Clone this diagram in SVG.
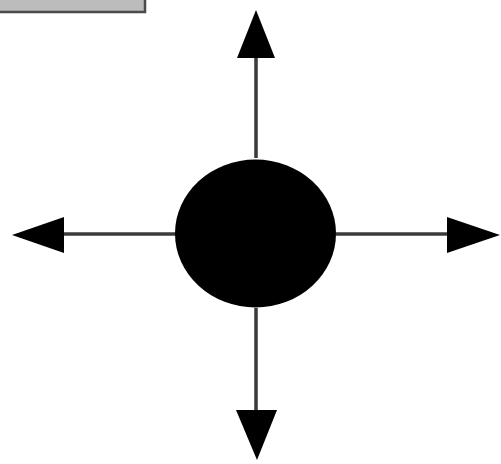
<svg xmlns="http://www.w3.org/2000/svg" width="501" height="464" viewBox="0 0 501 464">
<style>
.conn{stroke:#3a3a3a;stroke-width:3.5;fill:none}
.head{fill:#000}
</style>
<rect width="501" height="464" fill="#fff"/>
<g id="label-box">
<rect x="-3" y="-3" width="148" height="15" fill="#bcbcbc" stroke="#4a4a4a" stroke-width="2.5"/>
</g>
<g id="connectors">
<line class="conn" x1="256" y1="56" x2="256" y2="158"/>
<line class="conn" x1="62" y1="234" x2="176" y2="234"/>
<line class="conn" x1="336" y1="234" x2="449" y2="234"/>
<line class="conn" x1="256" y1="308" x2="256" y2="412"/>
<polygon class="head" points="256,10 237,58 275,58"/>
<polygon class="head" points="12,235 64,217 64,253"/>
<polygon class="head" points="500,235 447,217 447,253"/>
<polygon class="head" points="257,460 236,410 277,410"/>
</g>
<g id="center-node">
<ellipse cx="255.5" cy="233.5" rx="80.5" ry="74" fill="#000"/>
</g>
</svg>
